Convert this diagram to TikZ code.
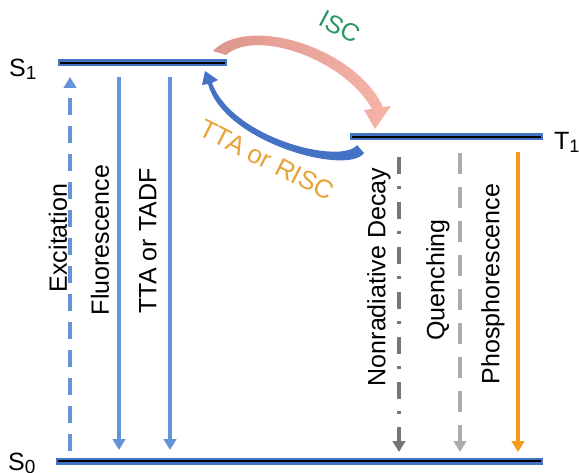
\documentclass[tikz,border=0pt]{standalone}
\usepackage{fontspec}
\setmainfont{Liberation Sans}
\usetikzlibrary{arrows.meta}
\definecolor{lvlblue}{RGB}{68,114,196}
\definecolor{arrblue}{RGB}{100,148,214}
\definecolor{iscpinkA}{RGB}{222,150,140}
\definecolor{iscpinkB}{RGB}{246,180,168}
\definecolor{iscgreen}{RGB}{38,150,96}
\definecolor{rorange}{RGB}{232,163,56}
\definecolor{phorange}{RGB}{247,153,29}
\definecolor{dgray}{RGB}{118,118,118}
\definecolor{lgray}{RGB}{172,172,172}
\begin{document}
\begin{tikzpicture}[x=1pt,y=-1pt,
  lvl/.style={line width=7pt, draw=lvlblue},
  lvlcore/.style={line width=2.6pt, draw=black},
  lbl/.style={font=\fontsize{25}{30}\selectfont, inner sep=0pt},
  vtext/.style={lbl, rotate=90},
  varrow/.style={line width=3.2pt, -{Triangle[width=12.5pt,length=11pt]}},
]
\useasboundingbox (0,0) rectangle (579,473);
% energy levels
\coordinate (s1a) at (58,63);  \coordinate (s1b) at (227,63);
\coordinate (t1a) at (350,137); \coordinate (t1b) at (543,137);
\coordinate (s0a) at (56,461);  \coordinate (s0b) at (543,461);
\foreach \a/\b in {s1a/s1b,t1a/t1b,s0a/s0b}{
  \draw[lvl] (\a) -- (\b);
  \draw[lvlcore] ([xshift=2pt]\a) -- ([xshift=-2pt]\b);
}
% level labels
\node[lbl, anchor=base west] (S1) at (9,77) {S\raisebox{-3pt}{\fontsize{19}{19}\selectfont 1}};
\node[lbl, anchor=base west] (T1) at (554,150) {T\raisebox{-3pt}{\fontsize{18}{18}\selectfont 1}};
\node[lbl, anchor=base west] (S0) at (8,470) {S\raisebox{-3pt}{\fontsize{19}{19}\selectfont 0}};
% vertical transitions
\coordinate (exb) at (70,451); \coordinate (ext) at (70,77);
\coordinate (flt) at (119,77); \coordinate (flb) at (119,450);
\coordinate (tat) at (170,77); \coordinate (tab) at (170,450);
\coordinate (nrt) at (399,157); \coordinate (nrb) at (399,452);
\coordinate (qut) at (460,153); \coordinate (qub) at (460,452);
\coordinate (pht) at (518,152); \coordinate (phb) at (518,452);
\draw[varrow, arrblue, dash pattern=on 17pt off 11pt] (exb) -- (ext);
\draw[varrow, arrblue] (flt) -- (flb);
\draw[varrow, arrblue] (tat) -- (tab);
\draw[varrow, dgray, dash pattern=on 17pt off 12pt on 3pt off 13pt] (nrt) -- (nrb);
\draw[varrow, lgray, dash pattern=on 21pt off 13pt] (qut) -- (qub);
\draw[varrow, phorange] (pht) -- (phb);
% vertical labels
\node[vtext] (lex) at (58,238) {Excitation};
\node[vtext] (lfl) at (100,240) {Fluorescence};
\node[vtext] (lta) at (148,241) {TTA or TADF};
\node[vtext] (lnr) at (379,277) {Nonradiative Decay};
\node[vtext] (lqu) at (438,280) {Quenching};
\node[vtext] (lph) at (493,284) {Phosphorescence};
% ISC curved arrow (S1 -> T1)
\shade[left color=iscpinkA, right color=iscpinkB]
  (213,51) .. controls (248,14) and (356,48) .. (383,107)
  -- (391,106) -- (375,129) -- (364,110) -- (372,109)
  .. controls (345,60) and (257,28) .. (226,55) -- cycle;
% TTA or RISC curved arrow (T1 -> S1)
\fill[lvlblue] (364,153) .. controls (348,176) and (224,143) .. (208,84)
  -- (202,85) -- (205,71) -- (218,80) -- (212,83)
  .. controls (233,139) and (342,165) .. (357,145) -- cycle;
\node[lbl, text=iscgreen, rotate=-28] (isc) at (340,27) {ISC};
\node[lbl, font=\fontsize{26}{30}\selectfont, text=rorange, rotate=-27] (rsc) at (267,160) {TTA or RISC};
\end{tikzpicture}
\end{document}
